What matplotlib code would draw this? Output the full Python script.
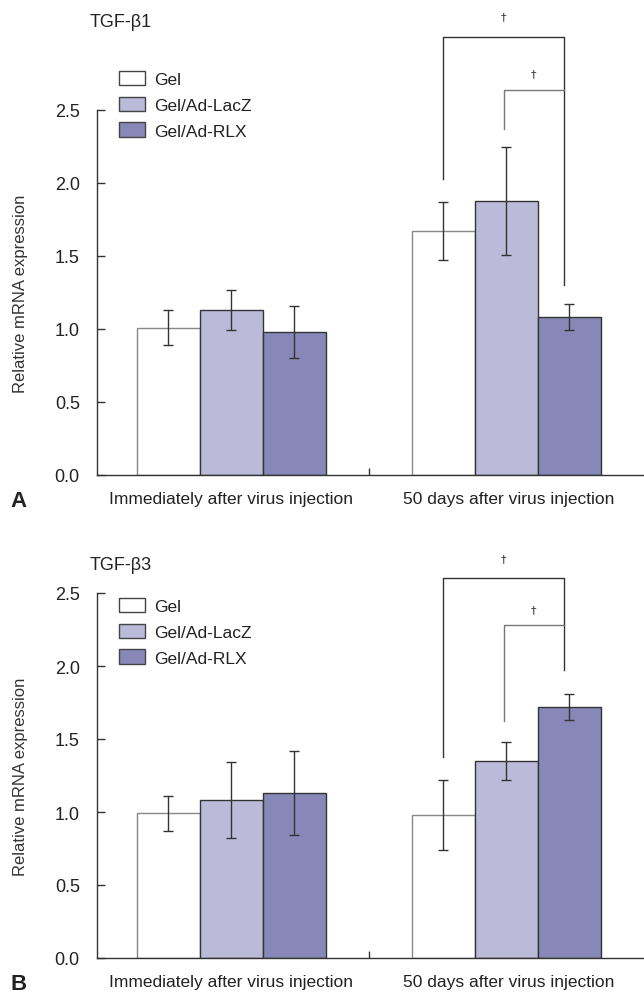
import numpy as np
import matplotlib
matplotlib.use("Agg")
from matplotlib import pyplot as plt
from matplotlib.patches import Patch

plt.rcParams['font.family'] = ['Liberation Sans', 'DejaVu Sans']

# Data
groups = ['Immediately after virus injection', '50 days after virus injection']
series = ['Gel', 'Gel/Ad-LacZ', 'Gel/Ad-RLX']
colors = ['#ffffff', '#bbbbd9', '#8888b8']
edges = ['#888888', '#333333', '#333333']

tgf_b1_mean = [[1.01, 1.67], [1.13, 1.88], [0.98, 1.08]]
tgf_b1_err = [[0.12, 0.20], [0.14, 0.37], [0.18, 0.09]]
tgf_b3_mean = [[0.99, 0.98], [1.08, 1.35], [1.13, 1.72]]
tgf_b3_err = [[0.12, 0.24], [0.26, 0.13], [0.29, 0.09]]

# brackets: outer (left bottom, top, right bottom), inner (left bottom, top)
b1_brackets = {'outer': (2.03, 3.0, 1.30), 'inner': (2.37, 2.64)}
b3_brackets = {'outer': (1.38, 2.60, 1.97), 'inner': (1.62, 2.28)}

width = 0.229
x = np.arange(len(groups))

W, H = 644, 995


def fx(px):
    return px / W


def fy(py):
    return 1 - py / H


def draw_panel(ax, title, means, errs, brackets, letter, bottom_px, title_px, legend_px):
    for i in range(3):
        ax.bar(x + (i - 1) * width, means[i], width, color=colors[i],
               edgecolor=edges[i], linewidth=1.0, zorder=2)
        ax.errorbar(x + (i - 1) * width, means[i], yerr=errs[i], fmt='none',
                    ecolor='#333333', elinewidth=1.0, capsize=3.5, capthick=1.0, zorder=3)
    ax.set_xlim(-0.49, 1.5)
    ax.set_ylim(0, 2.5)
    ax.set_yticks([0, 0.5, 1.0, 1.5, 2.0, 2.5])
    ax.set_yticklabels(['0.0', '0.5', '1.0', '1.5', '2.0', '2.5'])
    ax.set_xticks([0.5])
    ax.set_xticklabels([''])
    ax.tick_params(axis='y', direction='in', length=6, width=1, color='#333333',
                   labelsize=13, pad=12, labelcolor='#222222')
    ax.tick_params(axis='x', direction='in', length=5, width=1, color='#333333')
    for s in ['top', 'right']:
        ax.spines[s].set_visible(False)
    for s in ['left', 'bottom']:
        ax.spines[s].set_color('#333333')
        ax.spines[s].set_linewidth(1.0)
    ax.set_ylabel('Relative mRNA expression', fontsize=12, color='#333333')
    ax.yaxis.set_label_coords(-0.125, 0.5)

    for gx, g in zip([231, 509], groups):
        fig.text(fx(gx), fy(bottom_px + 24), g, ha='center', va='center',
                 fontsize=12.5, color='#222222')
    fig.text(fx(90), fy(title_px), title, fontsize=13, color='#222222',
             ha='left', va='center')
    fig.text(fx(10), fy(bottom_px + 26), letter, fontsize=16, fontweight='bold',
             color='#222222', ha='left', va='center')

    # significance brackets
    lx, mx, rx = 1 - width, 1.0 - 0.01, 1 + width - 0.02
    lb, top, rb = brackets['outer']
    ax.plot([lx, lx, rx, rx], [lb, top, top, rb], color='#333333', lw=1.0, clip_on=False)
    ilb, itop = brackets['inner']
    ax.plot([mx, mx, rx], [ilb, itop, itop], color='#777777', lw=1.0, clip_on=False)
    ax.text((lx + rx) / 2, top + 0.14, '\u2020', ha='center', va='center', fontsize=8,
            color='#333333', family='DejaVu Sans', clip_on=False)
    ax.text((mx + rx) / 2, itop + 0.11, '\u2020', ha='center', va='center', fontsize=8,
            color='#333333', family='DejaVu Sans', clip_on=False)

    handles = [Patch(facecolor=colors[i], edgecolor='#444444', linewidth=1.0) for i in range(3)]
    ax.legend(handles, series, loc='upper left', frameon=False, fontsize=12.5,
              handlelength=1.5, handleheight=0.9, handletextpad=0.5, labelspacing=0.55,
              borderaxespad=0, borderpad=0, labelcolor='#222222',
              bbox_to_anchor=(fx(119), fy(legend_px)), bbox_transform=fig.transFigure)


fig = plt.figure(figsize=(6.44, 9.95), dpi=100)
axA = fig.add_axes([fx(96.5), fy(476), 1 - fx(96.5), 365 / H])
axB = fig.add_axes([fx(96.5), fy(959), 1 - fx(96.5), 365 / H])

draw_panel(axA, 'TGF-\u03b21', tgf_b1_mean, tgf_b1_err, b1_brackets, 'A', 476, 23, 72)
draw_panel(axB, 'TGF-\u03b23', tgf_b3_mean, tgf_b3_err, b3_brackets, 'B', 959, 565, 599)

plt.savefig('out.png', dpi=100)
